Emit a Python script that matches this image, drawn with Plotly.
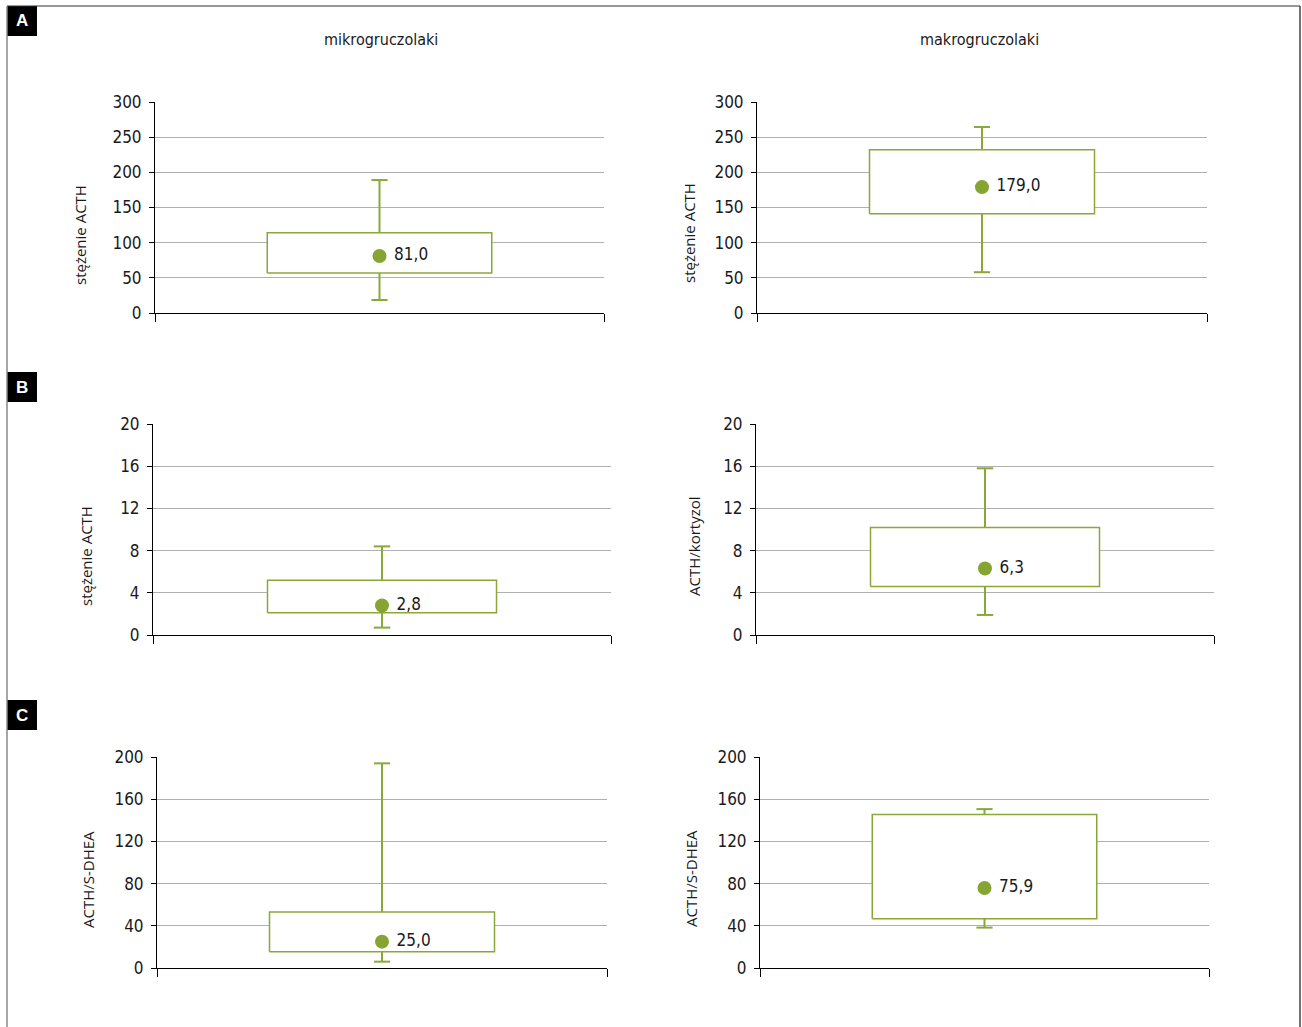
import plotly.graph_objects as go

# ---------------- data ----------------
panel_letters = ["A", "B", "C"]
group_titles = ["mikrogruczolaki", "makrogruczolaki"]
y_titles = ["stężenie ACTH", "stężenie ACTH", "stężenie ACTH", "ACTH/kortyzol", "ACTH/S-DHEA", "ACTH/S-DHEA"]
y_max = [300, 300, 20, 20, 200, 200]
y_dtick = [50, 50, 4, 4, 40, 40]
min_vals = [18.5, 58, 0.7, 1.9, 6, 38.3]
q1_vals = [57, 141, 2.1, 4.6, 15.5, 46.8]
median_vals = [81.0, 179.0, 2.8, 6.3, 25.0, 75.9]
q3_vals = [114, 232, 5.2, 10.2, 53, 145.6]
max_vals = [189, 264.5, 8.4, 15.8, 194, 150.6]
median_labels = ["81,0", "179,0", "2,8", "6,3", "25,0", "75,9"]

# ---------------- layout constants ----------------
W, H = 1302, 1027
GREEN = "#8aa83a"
DOT = "#86a431"
TICK_FONT = dict(family="DejaVu Sans Condensed, Liberation Sans Narrow, sans-serif", size=17, color="#1a1a1a")
TITLE_FONT = dict(family="Open Sans, DejaVu Sans, sans-serif", size=15, color="#1a1a1a")

px_boxes = [
    (155, 604, 102, 313), (757, 1207, 102, 313),
    (153, 611, 424, 635), (756, 1214, 424, 635),
    (157, 607, 757, 968), (760, 1209, 757, 968),
]
title_pos = [(80, 235), (689, 233), (86, 556), (694, 546), (88, 880), (691, 879)]

fig = go.Figure()
BOX_HALF = 0.25
CAP_HALF = 0.018

for i in range(6):
    ax = "" if i == 0 else str(i + 1)
    xref, yref = "x" + ax, "y" + ax
    fig.add_trace(go.Scatter(
        x=[0.5, 0.5, None, 0.5, 0.5, None, 0.5 - CAP_HALF, 0.5 + CAP_HALF, None, 0.5 - CAP_HALF, 0.5 + CAP_HALF],
        y=[q3_vals[i], max_vals[i], None, q1_vals[i], min_vals[i], None, max_vals[i], max_vals[i], None, min_vals[i], min_vals[i]],
        mode="lines", line=dict(color=GREEN, width=2), xaxis=xref, yaxis=yref,
        showlegend=False, hoverinfo="skip"))
    fig.add_trace(go.Scatter(
        x=[0.5 - BOX_HALF, 0.5 + BOX_HALF, 0.5 + BOX_HALF, 0.5 - BOX_HALF, 0.5 - BOX_HALF],
        y=[q1_vals[i], q1_vals[i], q3_vals[i], q3_vals[i], q1_vals[i]],
        mode="lines", fill="toself", fillcolor="white", line=dict(color=GREEN, width=1.5),
        xaxis=xref, yaxis=yref, showlegend=False, hoverinfo="skip"))
    fig.add_trace(go.Scatter(
        x=[0.5], y=[median_vals[i]], mode="markers+text", text=[" " + median_labels[i]],
        textposition="middle right", textfont=dict(family=TICK_FONT["family"], size=17, color="#1a1a1a"),
        marker=dict(color=DOT, size=14), xaxis=xref, yaxis=yref, showlegend=False))

layout = dict(
    width=W, height=H, margin=dict(l=0, r=0, t=0, b=0, pad=0, autoexpand=False),
    paper_bgcolor="white", plot_bgcolor="white", showlegend=False,
)
for i in range(6):
    ax = "" if i == 0 else str(i + 1)
    x0, x1, yt, yb = px_boxes[i]
    layout["xaxis" + ax] = dict(
        domain=[x0 / W, x1 / W], range=[0, 1], anchor="y" + ax,
        showgrid=False, zeroline=False, showline=True, linecolor="black", linewidth=1,
        tickvals=[0, 1], ticks="outside", ticklen=8, tickcolor="black", showticklabels=False,
        fixedrange=True, automargin=False)
    layout["yaxis" + ax] = dict(
        domain=[1 - yb / H, 1 - yt / H], range=[0, y_max[i]], dtick=y_dtick[i], anchor="x" + ax,
        showgrid=True, gridcolor="#b0b0b0", gridwidth=1, zeroline=False,
        showline=True, linecolor="black", linewidth=1,
        ticks="outside", ticklen=5, tickcolor="black", tickfont=TICK_FONT,
        ticklabelstandoff=4, fixedrange=True, automargin=False)

annotations = []
shapes = []
for i in range(6):
    cx, cy = title_pos[i]
    annotations.append(dict(x=cx / W, y=1 - cy / H, xref="paper", yref="paper", text=y_titles[i],
                            textangle=-90, showarrow=False, font=TITLE_FONT, xanchor="center", yanchor="middle"))
for j, cx in enumerate([381, 979]):
    annotations.append(dict(x=cx / W, y=1 - 40 / H, xref="paper", yref="paper", text=group_titles[j],
                            showarrow=False, font=dict(family=TICK_FONT["family"], size=16, color="#1a1a1a"),
                            xanchor="center", yanchor="middle"))
for j, (yt, yb) in enumerate([(6, 36), (372, 402), (700, 730)]):
    shapes.append(dict(type="rect", xref="paper", yref="paper", x0=7 / W, x1=37 / W,
                       y0=1 - yb / H, y1=1 - yt / H, fillcolor="black", line=dict(width=0)))
    annotations.append(dict(x=22 / W, y=1 - (yt + yb) / 2 / H, xref="paper", yref="paper",
                            text="<b>" + panel_letters[j] + "</b>", showarrow=False,
                            font=dict(family="Liberation Sans, Arial, sans-serif", size=17, color="white"),
                            xanchor="center", yanchor="middle"))
shapes.append(dict(type="line", xref="paper", yref="paper", x0=7 / W, x1=1300 / W, y0=1 - 6 / H, y1=1 - 6 / H,
                   line=dict(color="#333333", width=1.2)))
shapes.append(dict(type="line", xref="paper", yref="paper", x0=7 / W, x1=7 / W, y0=1 - 6 / H, y1=0,
                   line=dict(color="#888888", width=1.5)))
shapes.append(dict(type="line", xref="paper", yref="paper", x0=1300 / W, x1=1300 / W, y0=1 - 6 / H, y1=0,
                   line=dict(color="#444444", width=1.5)))

layout["annotations"] = annotations
layout["shapes"] = shapes
fig.update_layout(**layout)

fig.write_html("out.html", config={"displayModeBar": False},
               post_script="document.body.style.margin='0';")
